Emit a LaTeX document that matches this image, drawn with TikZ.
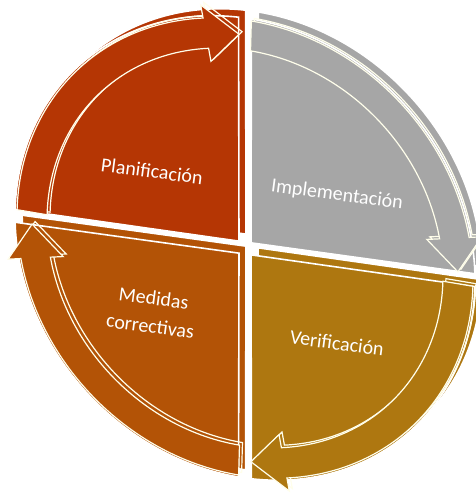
\documentclass[tikz,border=0pt]{standalone}
\usepackage{fontspec}
\setmainfont{Carlito}
\definecolor{planred}{RGB}{181,54,4}
\definecolor{implgray}{RGB}{166,166,166}
\definecolor{verigold}{RGB}{174,119,16}
\definecolor{medorange}{RGB}{179,83,6}

\begin{document}
\begin{tikzpicture}[x=0.75pt,y=0.75pt,
    quadface/.style={fill=#1,draw=white,line width=1.2pt},
    quadarrow/.style={fill=#1,draw=white!92!yellow,line width=0.9pt},
    phasetext/.style={text=white,rotate=-7.5,align=center,
      font=\fontsize{15}{21}\selectfont}]
    \useasboundingbox (-245,-251) rectangle (230,248);

    \begin{scope}[yslant=-0.14]
        % thickness of the disk
        \begin{scope}[shift={(7,8)}]
            \foreach \col/\a/\b in {planred/178.4/91.6, implgray/88.4/1.6,
                verigold/-1.6/-88.4, medorange/268.4/181.6}
                \path[quadface=\col] ({(\a+\b)/2}:8.5) -- (\a:230)
                    arc[start angle=\a, end angle=\b, radius=230] -- cycle;
        \end{scope}

        % top faces
        \foreach \col/\a/\b in {planred/178.4/91.6, implgray/88.4/1.6,
            verigold/-1.6/-88.4, medorange/268.4/181.6}
            \path[quadface=\col] ({(\a+\b)/2}:8.5) -- (\a:230)
                arc[start angle=\a, end angle=\b, radius=230] -- cycle;

        % curved arrows, clockwise
        \foreach \col/\a/\b in {planred/178.4/91.6, implgray/88.4/1.6,
            verigold/-1.6/-88.4, medorange/268.4/181.6} {
            \draw[white!92!yellow,line width=0.9pt,shift={(3,3)}] (\a:198)
                arc[start angle=\a, end angle={\b+9}, radius=198]
                -- ({\b+9}:185) -- (\b:213) -- ({\b+9}:241) -- ({\b+9}:228)
                arc[start angle={\b+9}, end angle=\a, radius=228] -- cycle;
            \path[quadarrow=\col] (\a:198)
                arc[start angle=\a, end angle={\b+9}, radius=198]
                -- ({\b+9}:185) -- (\b:213) -- ({\b+9}:241) -- ({\b+9}:228)
                arc[start angle={\b+9}, end angle=\a, radius=228] -- cycle;
        }
    \end{scope}

    \node[phasetext] (plan) at (-93,77) {Planificación};
    \node[phasetext] (impl) at (92,53) {Implementación};
    \node[phasetext] (veri) at (92,-95) {Verificación};
    \node[phasetext] (medi) at (-93,-64) {Medidas\\correctivas};
\end{tikzpicture}
\end{document}
